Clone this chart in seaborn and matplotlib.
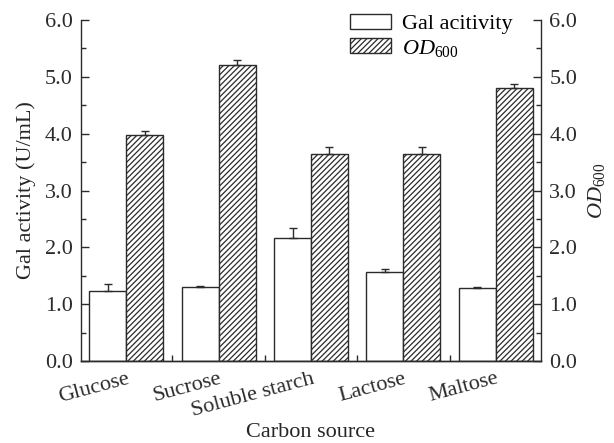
import matplotlib
matplotlib.use("Agg")
import matplotlib.pyplot as plt
from matplotlib.ticker import FixedLocator, MultipleLocator, FormatStrFormatter
import numpy as np
import pandas as pd
import seaborn as sns

# data
sources = ["Glucose", "Sucrose", "Soluble starch", "Lactose", "Maltose"]
gal_activity = [1.24, 1.30, 2.17, 1.56, 1.29]
gal_err = [0.12, 0.02, 0.17, 0.05, 0.01]
od600 = [3.97, 5.20, 3.64, 3.64, 4.81]
od_err = [0.07, 0.09, 0.12, 0.13, 0.07]
series_names = ["Gal acitivity", r"$\mathit{OD}_{600}$"]
y_ticks = [0.0, 1.0, 2.0, 3.0, 4.0, 5.0, 6.0]

EDGE = "#2b2b2b"

sns.set_theme(style="ticks")
plt.rcParams["font.family"] = ["Liberation Serif", "DejaVu Serif"]
plt.rcParams["mathtext.fontset"] = "custom"
plt.rcParams["mathtext.rm"] = "Liberation Serif"
plt.rcParams["mathtext.it"] = "Liberation Serif:italic"
plt.rcParams["hatch.linewidth"] = 0.9
plt.rcParams["hatch.color"] = EDGE
plt.rcParams["axes.edgecolor"] = EDGE
plt.rcParams["axes.linewidth"] = 1.0
plt.rcParams["xtick.color"] = EDGE
plt.rcParams["ytick.color"] = EDGE
plt.rcParams["text.color"] = "black"

df = pd.DataFrame({
    "source": sources * 2,
    "series": [series_names[0]] * len(sources) + [series_names[1]] * len(sources),
    "value": gal_activity + od600,
})

fig = plt.figure(figsize=(6.14, 4.43), dpi=100)
ax = fig.add_axes([81 / 614, 1 - 361 / 443, 460 / 614, 341 / 443])

sns.barplot(data=df, x="source", y="value", hue="series", ax=ax,
            palette=["white", "white"], edgecolor=EDGE, linewidth=1.0,
            errorbar=None, legend=False, width=0.8, gap=0, saturation=1)

for p in ax.containers[1]:
    p.set_hatch("//////")

# one-sided error bars (upper only)
for cont, errs in zip(ax.containers, [gal_err, od_err]):
    xs = [p.get_x() + p.get_width() / 2 for p in cont]
    ys = [p.get_height() for p in cont]
    ax.errorbar(xs, ys, yerr=[np.zeros(len(errs)), errs], fmt="none",
                ecolor=EDGE, elinewidth=1.0, capsize=3, capthick=1.0)

ax.set_xlim(-0.49, 4.49)
ax.set_ylim(0, 6)
ax.set_yticks(y_ticks)
ax.yaxis.set_major_formatter(FormatStrFormatter("%.1f"))
ax.yaxis.set_minor_locator(MultipleLocator(0.5))
ax.tick_params(axis="y", which="major", direction="in", length=6, width=1,
               labelsize=16, pad=6)
ax.tick_params(axis="y", which="minor", direction="in", length=3.5, width=1)

ax.set_xticks(range(len(sources)))
ax.set_xticklabels(sources, rotation=15, ha="right", rotation_mode="anchor")
ax.xaxis.set_minor_locator(FixedLocator([0.5, 1.5, 2.5, 3.5]))
ax.tick_params(axis="x", which="major", length=0, labelsize=16, pad=6)
ax.tick_params(axis="x", which="minor", direction="in", length=4, width=1)

ax.spines["top"].set_visible(False)
ax.spines["right"].set_visible(False)

ax.set_xlabel("Carbon source", fontsize=16, labelpad=2)
ax.set_ylabel("Gal activity (U/mL)", fontsize=16, labelpad=6)

ax2 = ax.twinx()
ax2.set_ylim(0, 6)
ax2.set_yticks(y_ticks)
ax2.yaxis.set_major_formatter(FormatStrFormatter("%.1f"))
ax2.yaxis.set_minor_locator(MultipleLocator(0.5))
ax2.tick_params(axis="y", which="major", direction="in", length=6, width=1,
                labelsize=16, pad=6)
ax2.tick_params(axis="y", which="minor", direction="in", length=3.5, width=1)
ax2.spines["top"].set_visible(False)
ax2.spines["left"].set_visible(False)
ax2.set_ylabel(series_names[1], fontsize=16, labelpad=6)

ax.legend(ax.containers[:2], series_names, frameon=False, loc="upper left",
          bbox_to_anchor=(350 / 614, 1 - 14 / 443), bbox_transform=fig.transFigure,
          fontsize=16, handlelength=1.85, handleheight=0.65, handletextpad=0.5,
          labelspacing=0.15, borderpad=0, borderaxespad=0)

fig.savefig("out.png", dpi=100)
